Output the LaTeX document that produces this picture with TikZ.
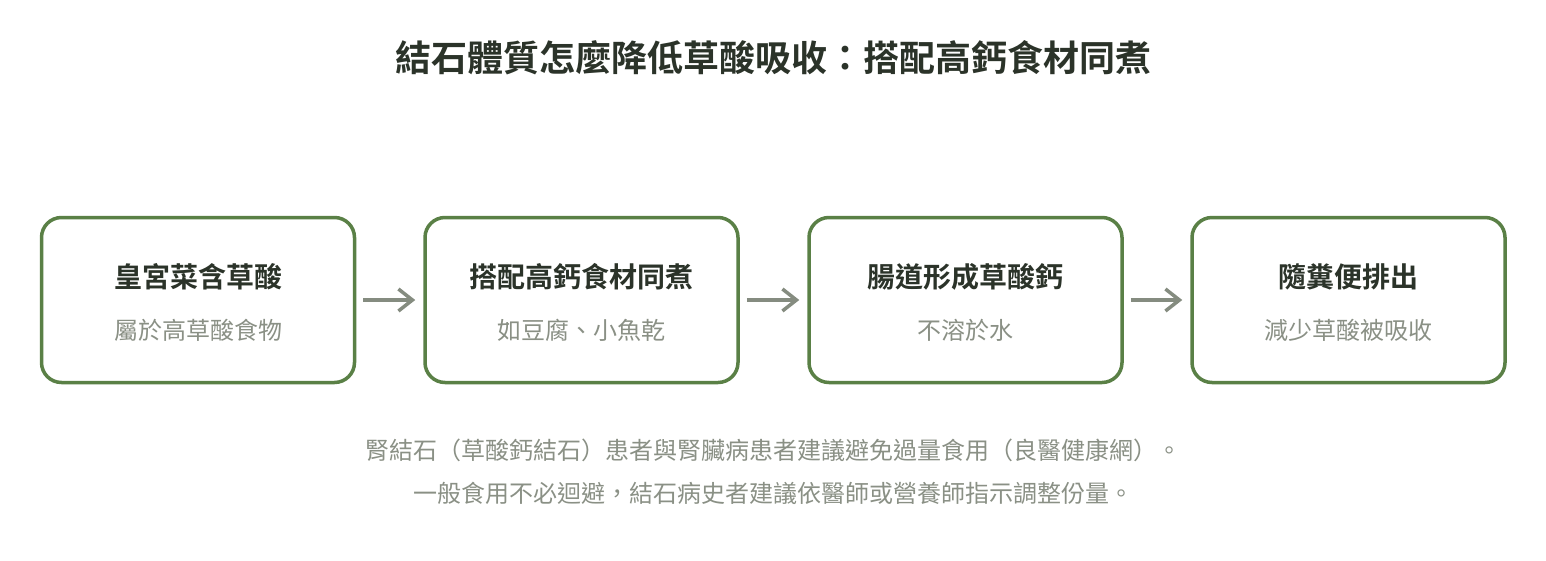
\documentclass[tikz,border=0pt]{standalone}
\usepackage{fontspec}
\setmainfont{Noto Sans CJK TC}
\newfontfamily\cjkbold{Noto Sans CJK TC Bold}
\usetikzlibrary{arrows.meta}
\definecolor{boxgreen}{HTML}{5A8046}
\definecolor{darktext}{HTML}{2B3329}
\definecolor{graytext}{HTML}{8A9085}
\definecolor{arrowgray}{HTML}{858C80}
\tikzset{
  stepbox/.style={draw=boxgreen, line width=3.5pt, rounded corners=20pt, minimum width=313pt, minimum height=165pt, fill=white},
  boxtitle/.style={text=darktext, font=\cjkbold\fontsize{28}{32}\selectfont},
  boxsub/.style={text=graytext, font=\fontsize{24}{28}\selectfont},
  flow/.style={draw=arrowgray, line width=3.5pt, -{Straight Barb[length=14pt,width=22pt,line width=3.5pt]}},
  foot/.style={text=graytext, font=\fontsize{24}{28}\selectfont}
}
\begin{document}
\begin{tikzpicture}[x=1pt,y=-1pt]
\useasboundingbox[fill=white] (0,0) rectangle (1546,560);
\node[text=darktext, font=\cjkbold\fontsize{36}{40}\selectfont] (title) at (773,58) {結石體質怎麼降低草酸吸收：搭配高鈣食材同煮};
\node[stepbox] (b1) at (198,300) {};
\node[stepbox] (b2) at (581.5,300) {};
\node[stepbox] (b3) at (965.5,300) {};
\node[stepbox] (b4) at (1348.5,300) {};
\node[boxtitle] (t1) at (198,277) {皇宮菜含草酸};
\node[boxsub] (s1) at (198,330) {屬於高草酸食物};
\node[boxtitle] (t2) at (581.5,277) {搭配高鈣食材同煮};
\node[boxsub] (s2) at (581.5,330) {如豆腐、小魚乾};
\node[boxtitle] (t3) at (965.5,277) {腸道形成草酸鈣};
\node[boxsub] (s3) at (965.5,330) {不溶於水};
\node[boxtitle] (t4) at (1348.5,277) {隨糞便排出};
\node[boxsub] (s4) at (1348.5,330) {減少草酸被吸收};
\draw[flow] ([xshift=7pt]b1.east) -- ([xshift=-8pt]b2.west);
\draw[flow] ([xshift=7pt]b2.east) -- ([xshift=-8pt]b3.west);
\draw[flow] ([xshift=7pt]b3.east) -- ([xshift=-8pt]b4.west);
\node[foot] (f1) at (773,450) {腎結石（草酸鈣結石）患者與腎臟病患者建議避免過量食用（良醫健康網）。};
\node[foot] (f2) at (773,493) {一般食用不必迴避，結石病史者建議依醫師或營養師指示調整份量。};
\end{tikzpicture}
\end{document}
